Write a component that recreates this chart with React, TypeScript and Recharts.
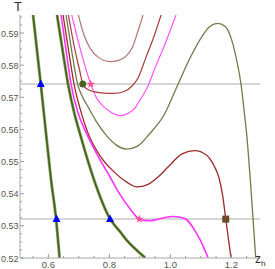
import { ComposedChart, Line, Scatter, XAxis, YAxis } from "recharts";

// T(z_h) curves, each as [z_h, T]
const steepGreen: [number, number][] = [
  [0.5498, 0.5956], [0.5751, 0.5741], [0.5925, 0.5586], [0.6089, 0.5443], [0.6252, 0.5322], [0.6367, 0.5201],
];
const greenMain: [number, number][] = [
  [0.6285, 0.5956], [0.6466, 0.5847], [0.6646, 0.5741], [0.6843, 0.5654], [0.7039, 0.5586],
  [0.7498, 0.5443], [0.8023, 0.5322], [0.8351, 0.5282], [0.858, 0.5254], [0.8875, 0.5226], [0.917, 0.5201],
];
const magentaCrit: [number, number][] = [
  [0.6416, 0.5956], [0.658, 0.5847], [0.6744, 0.5741], [0.6974, 0.5651], [0.7259, 0.5586],
  [0.7587, 0.5524], [0.8023, 0.5452], [0.8351, 0.5397], [0.8679, 0.5353], [0.8984, 0.5321],
  [0.917, 0.5317], [0.9334, 0.5316], [0.9564, 0.532], [0.9826, 0.5326], [1.0089, 0.5329],
  [1.0318, 0.5327], [1.0538, 0.5319], [1.0754, 0.5293], [1.0974, 0.5257], [1.1236, 0.5201],
];
const darkRed: [number, number][] = [
  [0.6482, 0.5956], [0.6662, 0.5847], [0.6843, 0.5741], [0.7072, 0.5654], [0.7311, 0.5586],
  [0.7695, 0.5518], [0.8121, 0.5471], [0.857, 0.5436], [0.8908, 0.5421], [0.9269, 0.5429],
  [0.9597, 0.5452], [0.9925, 0.5483], [1.0384, 0.5524], [1.081, 0.5534], [1.1171, 0.5521],
  [1.1433, 0.5487], [1.1597, 0.5449], [1.1711, 0.5397], [1.1816, 0.5322], [1.1908, 0.5257], [1.199, 0.5201],
];
const olive: [number, number][] = [
  [0.658, 0.5956], [0.6761, 0.5847], [0.6957, 0.5741], [0.7105, 0.5704], [0.7302, 0.567],
  [0.7564, 0.5626], [0.7915, 0.558], [0.822, 0.5552], [0.857, 0.5539], [0.8941, 0.5549],
  [0.9334, 0.5588], [0.9793, 0.5645], [1.0262, 0.5743], [1.0646, 0.5822], [1.103, 0.5888],
  [1.1302, 0.5921], [1.1554, 0.593], [1.1793, 0.5921], [1.2013, 0.5878], [1.2187, 0.581],
  [1.2318, 0.5741], [1.2416, 0.5661], [1.2505, 0.5583], [1.2646, 0.5412], [1.28, 0.5201],
];
const darkRed2: [number, number][] = [
  [0.6656, 0.5956], [0.6777, 0.5893], [0.6908, 0.5831], [0.7023, 0.5785], [0.7128, 0.5741],
  [0.7236, 0.5728], [0.7367, 0.5721], [0.7564, 0.5716], [0.7826, 0.5713], [0.8131, 0.5712],
  [0.8482, 0.5718], [0.8744, 0.5735], [0.8941, 0.576], [0.9203, 0.5825], [0.9466, 0.589], [0.9695, 0.5956],
];
const magenta2: [number, number][] = [
  [0.6767, 0.5956], [0.7039, 0.5853], [0.739, 0.5741], [0.7597, 0.5695], [0.7859, 0.5667],
  [0.8089, 0.5651], [0.8351, 0.5643], [0.8613, 0.565], [0.8843, 0.5667], [0.9007, 0.5692],
  [0.9236, 0.5729], [0.9498, 0.5791], [0.9826, 0.5866], [1.0187, 0.5956],
];
const rosy: [number, number][] = [
  [0.6984, 0.5956], [0.717, 0.5893], [0.7367, 0.5853], [0.763, 0.5825], [0.8023, 0.5811],
  [0.8285, 0.5814], [0.8548, 0.5828], [0.8744, 0.5853], [0.8908, 0.5897], [0.9105, 0.5956],
];

// isotherms
const tHigh = 0.5741;
const tLow = 0.5321;

// markers
const triangles: [number, number][] = [[0.5751, 0.5741], [0.6269, 0.5321], [0.8023, 0.5321]];
const circles: [number, number][] = [[0.7128, 0.5741]];
const stars: [number, number][] = [[0.739, 0.5741], [0.8984, 0.5321]];
const squares: [number, number][] = [[1.1816, 0.5321]];

const zTicks = [0.6, 0.8, 1.0, 1.2];
const zTickLabels = ["0.6", "0.8", "1.0", "1.2"];
const zMinor = [0.55, 0.65, 0.7, 0.75, 0.85, 0.9, 0.95, 1.05, 1.1, 1.15, 1.25];
const tTicks = [0.52, 0.53, 0.54, 0.55, 0.56, 0.57, 0.58, 0.59];
const tTickLabels = ["0.52", "0.53", "0.54", "0.55", "0.56", "0.57", "0.58", "0.59"];
const tMinor = [
  0.5225, 0.525, 0.5275, 0.5325, 0.535, 0.5375, 0.5425, 0.545, 0.5475, 0.5525, 0.555, 0.5575,
  0.5625, 0.565, 0.5675, 0.5725, 0.575, 0.5775, 0.5825, 0.585, 0.5875, 0.5925, 0.595,
];

const zDomain: [number, number] = [0.507, 1.294];
const tDomain: [number, number] = [0.52, 0.5956];

const pts = (a: [number, number][]) => a.map(([x, y]) => ({ x, y }));
const font = "'Liberation Sans', Arial, sans-serif";

const findLabel = (v: number, ticks: number[], labels: string[]) => {
  const i = ticks.findIndex((t) => Math.abs(t - v) < 1e-6);
  return i >= 0 ? labels[i] : null;
};

// plot edges in pixels (from the chart margins below)
const PLOT_LEFT = 20;
const PLOT_BOTTOM = 258;

const renderXTick = (props: any) => {
  const { x, payload } = props;
  const label = findLabel(payload.value, zTicks, zTickLabels);
  return (
    <g>
      <line x1={x} x2={x} y1={PLOT_BOTTOM} y2={PLOT_BOTTOM - (label ? 4 : 2)} stroke="#999" />
      {label && (
        <text x={x} y={PLOT_BOTTOM + 10} textAnchor="middle" fontSize={9.5} fontFamily={font} fill="#555">
          {label}
        </text>
      )}
    </g>
  );
};

const renderYTick = (props: any) => {
  const { y, payload } = props;
  const label = findLabel(payload.value, tTicks, tTickLabels);
  return (
    <g>
      <line x1={PLOT_LEFT} x2={PLOT_LEFT + (label ? 4 : 2)} y1={y} y2={y} stroke="#999" />
      {label && (
        <text x={PLOT_LEFT - 1.5} y={y + 3.5} textAnchor="end" fontSize={9} fontFamily={font} fill="#555">
          {label}
        </text>
      )}
    </g>
  );
};

const Triangle = (p: any) => (
  <polygon points={`${p.cx},${p.cy - 4.5} ${p.cx - 4},${p.cy + 3} ${p.cx + 4},${p.cy + 3}`} fill="#0000ff" />
);
const Dot = (p: any) => <circle cx={p.cx} cy={p.cy} r={3.5} fill="#4a6424" />;
const Square = (p: any) => <rect x={p.cx - 3.5} y={p.cy - 3.5} width={7} height={7} fill="#6b4a26" />;
const Star = (p: any) => {
  const s: string[] = [];
  for (let i = 0; i < 10; i++) {
    const r = i % 2 === 0 ? 4.5 : 1.8;
    const a = (Math.PI / 5) * i - Math.PI / 2;
    s.push(`${p.cx + r * Math.cos(a)},${p.cy + r * Math.sin(a)}`);
  }
  return <polygon points={s.join(" ")} fill="#ff4d94" />;
};

const curve = (data: [number, number][], stroke: string, width: number, key: string) => (
  <Line
    key={key}
    data={pts(data)}
    dataKey="y"
    type="monotone"
    stroke={stroke}
    strokeWidth={width}
    dot={false}
    activeDot={false}
    isAnimationActive={false}
  />
);

export default function App() {
  return (
    <div style={{ position: "absolute", left: 0, top: 0, width: 275, height: 269, background: "#fff" }}>
      <ComposedChart width={275} height={269} margin={{ top: 15, right: 15, bottom: 0, left: 0 }}>
        <XAxis
          type="number"
          dataKey="x"
          domain={zDomain}
          allowDataOverflow
          ticks={[...zTicks, ...zMinor]}
          tick={renderXTick}
          tickLine={false}
          height={11}
          axisLine={{ stroke: "#aaa" }}
          interval={0}
        />
        <YAxis
          type="number"
          dataKey="y"
          domain={tDomain}
          allowDataOverflow
          ticks={[...tTicks, ...tMinor]}
          tick={renderYTick}
          tickLine={false}
          width={20}
          axisLine={{ stroke: "#aaa" }}
          interval={0}
        />
        {curve([[zDomain[0], tHigh], [zDomain[1], tHigh]], "#c8c8c8", 1.5, "iso1")}
        {curve([[zDomain[0], tLow], [zDomain[1], tLow]], "#c8c8c8", 1.5, "iso2")}
        {curve(rosy, "#b87474", 1.2, "rosy")}
        {curve(magenta2, "#ff55ff", 1.2, "mag2")}
        {curve(darkRed2, "#a83c3c", 1.2, "dr2")}
        {curve(olive, "#6e7e48", 1.3, "olive")}
        {curve(darkRed, "#9c2b2b", 1.3, "dr")}
        {curve(magentaCrit, "#ff33ff", 1.6, "magc")}
        {curve(greenMain, "#8ea26a", 3, "g1b")}
        {curve(greenMain, "#43621c", 1.6, "g1")}
        {curve(steepGreen, "#8ea26a", 3, "g0b")}
        {curve(steepGreen, "#43621c", 1.6, "g0")}
        <Scatter data={pts(triangles)} dataKey="y" shape={<Triangle />} isAnimationActive={false} />
        <Scatter data={pts(circles)} dataKey="y" shape={<Dot />} isAnimationActive={false} />
        <Scatter data={pts(stars)} dataKey="y" shape={<Star />} isAnimationActive={false} />
        <Scatter data={pts(squares)} dataKey="y" shape={<Square />} isAnimationActive={false} />
      </ComposedChart>
      <div style={{ position: "absolute", left: 14, top: -1, fontFamily: font, fontSize: 13, color: "#333" }}>T</div>
      <div style={{ position: "absolute", left: 255, top: 252, fontFamily: font, fontSize: 12, color: "#333" }}>
        z<sub style={{ fontSize: 8 }}>h</sub>
      </div>
    </div>
  );
}
